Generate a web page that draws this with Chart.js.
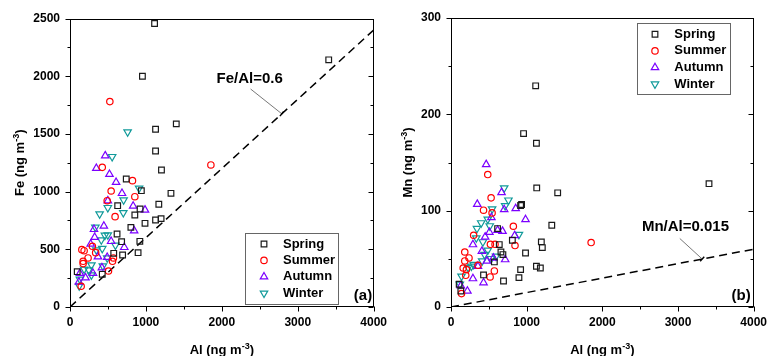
<!DOCTYPE html>
<html>
<head>
<meta charset="utf-8">
<script src="https://cdn.jsdelivr.net/npm/chart.js@4.4.1/dist/chart.umd.min.js"></script>
<style>
  html, body { margin: 0; padding: 0; background: #fff; }
  #wrap { position: relative; width: 775px; height: 356px; }
  .panel { position: absolute; top: 0; height: 356px; }
  #pa { left: 0; width: 395px; }
  #pb { left: 395px; width: 380px; }
</style>
</head>
<body>
<div id="wrap">
  <div class="panel" id="pa"><canvas id="fe"></canvas></div>
  <div class="panel" id="pb"><canvas id="mn"></canvas></div>
</div>
<script>
// axis ranges
const alRange = [0, 4000]
const feRange = [0, 2500]
const mnRange = [0, 300]
const feRatio = 0.6
const mnRatio = 0.015

// panel (a): Fe vs Al
const springAlA = [1114, 954, 3408, 1127, 1400, 1127, 1205, 741, 940, 1330, 1170, 628, 923, 854, 988, 1127, 1200, 802, 620, 680, 920, 693, 897, 576, 425, 95]
const springFe = [2457, 2000, 2142, 1540, 1587, 1352, 1187, 1109, 1008, 985, 890, 878, 849, 797, 725, 754, 766, 690, 633, 566, 569, 451, 471, 465, 283, 306]
const summerAlA = [525, 1856, 425, 823, 542, 490, 854, 594, 295, 156, 186, 338, 238, 173, 173, 572, 560, 507, 147]
const summerFe = [1780, 1231, 1210, 1095, 1005, 921, 956, 783, 526, 497, 488, 471, 425, 396, 376, 425, 396, 312, 180]
const autumnAlA = [464, 347, 520, 607, 685, 498, 832, 988, 446, 316, 845, 325, 542, 273, 715, 368, 490, 420, 303, 204, 130, 117]
const autumnFe = [1311, 1202, 1150, 1081, 985, 921, 875, 841, 702, 673, 661, 604, 569, 546, 517, 436, 431, 341, 292, 254, 292, 217]
const winterAlA = [759, 555, 910, 706, 498, 390, 702, 334, 498, 412, 460, 598, 347, 425, 433, 282, 247, 186, 130, 121, 282, 490]
const winterFe = [1517, 1303, 1029, 927, 861, 806, 817, 690, 624, 581, 621, 535, 494, 506, 355, 364, 321, 327, 240, 182, 277, 425]

// panel (b): Mn vs Al
const springAlB = [1119, 959, 1129, 3410, 1133, 1410, 933, 920, 1332, 616, 638, 811, 1194, 1207, 660, 686, 985, 573, 1129, 1181, 920, 898, 694, 430, 108, 130]
const springMn = [229.6, 180, 170, 128, 123.6, 118.5, 106.4, 105.4, 84.9, 81.4, 64.8, 69.3, 67.6, 61.7, 57.1, 54.4, 56.1, 46.8, 42.3, 40.5, 38.8, 30.5, 27, 33.3, 23.6, 16.6]
const summerAlB = [486, 530, 430, 543, 824, 299, 521, 582, 846, 182, 238, 182, 161, 204, 356, 573, 517, 195, 139, 1852]
const summerMn = [137.5, 113.3, 100.5, 97.7, 83.8, 74.5, 65.1, 65.1, 63.8, 57.1, 50.9, 47.8, 40.5, 38.8, 43.3, 37.4, 31.2, 32.9, 13.9, 66.9]
const autumnAlB = [465, 668, 347, 703, 855, 985, 534, 616, 681, 842, 508, 451, 290, 408, 560, 716, 473, 356, 290, 430, 217, 130]
const autumnMn = [148, 118.8, 106.7, 101.2, 102.2, 90.8, 92.9, 79.7, 78.7, 74.2, 77.6, 72.7, 64.8, 57.9, 50.9, 49.2, 47.8, 42.3, 29.5, 25.3, 16.6, 22]
const winterAlB = [703, 759, 716, 543, 486, 399, 343, 512, 898, 334, 421, 486, 443, 595, 412, 530, 269, 226, 139, 117, 300]
const winterMn = [123.6, 110.9, 105, 101.8, 91.1, 87.3, 81.4, 84.2, 75.2, 71.7, 67.6, 58.9, 54.4, 52.6, 47.8, 50.2, 42.3, 40.9, 31.9, 23.6, 44]

const FONT = "'Liberation Sans', Arial, Helvetica, sans-serif"
Chart.defaults.font.family = FONT
Chart.defaults.font.weight = 'bold'
Chart.defaults.font.size = 12
Chart.defaults.color = '#000'

const seasonStyle = {
  Spring: { pointStyle: 'rect', color: '#1a1a1a', radius: 4, rotation: 0 },
  Summer: { pointStyle: 'circle', color: '#ff0000', radius: 3.2, rotation: 0 },
  Autumn: { pointStyle: 'triangle', color: '#7b00ff', radius: 4.3, rotation: 0 },
  Winter: { pointStyle: 'triangle', color: '#119a9a', radius: 4.3, rotation: 180 }
}

function seasonSet (name, xs, ys) {
  const s = seasonStyle[name]
  return {
    label: name,
    data: xs.map((x, i) => ({ x: x, y: ys[i] })),
    pointStyle: s.pointStyle,
    pointRotation: s.rotation,
    pointRadius: s.radius,
    pointBorderWidth: 1.2,
    borderColor: s.color,
    pointBorderColor: s.color,
    backgroundColor: 'rgba(0,0,0,0)',
    pointBackgroundColor: 'rgba(0,0,0,0)'
  }
}

function ratioSet (ratio) {
  return {
    label: 'ratio',
    isRatio: true,
    data: [{ x: alRange[0], y: alRange[0] * ratio }, { x: alRange[1], y: alRange[1] * ratio }],
    showLine: true,
    borderColor: '#000',
    borderWidth: 1.5,
    borderDash: [8, 5],
    pointRadius: 0
  }
}

function drawSupText (ctx, parts, x, y) {
  const big = 'bold 13px ' + FONT
  const small = 'bold 9px ' + FONT
  ctx.font = big
  const w0 = ctx.measureText(parts[0]).width
  const w2 = ctx.measureText(parts[2]).width
  ctx.font = small
  const w1 = ctx.measureText(parts[1]).width
  let cx = x - (w0 + w1 + w2) / 2
  ctx.textAlign = 'left'
  ctx.textBaseline = 'alphabetic'
  ctx.font = big; ctx.fillText(parts[0], cx, y); cx += w0
  ctx.font = small; ctx.fillText(parts[1], cx, y - 5); cx += w1
  ctx.font = big; ctx.fillText(parts[2], cx, y)
}

function line (ctx, x1, y1, x2, y2) {
  ctx.beginPath(); ctx.moveTo(x1, y1); ctx.lineTo(x2, y2); ctx.stroke()
}

// frame, tick marks, titles, ratio label, legend box, panel tag
const decorPlugin = {
  id: 'decor',
  afterDraw (chart, args, opts) {
    const ctx = chart.ctx
    const a = chart.chartArea
    const xs = chart.scales.x
    const ys = chart.scales.y
    const L = Math.round(a.left) + 0.5
    const R = Math.round(a.right) - 0.5
    const T = Math.round(a.top) + 0.5
    const B = Math.round(a.bottom) - 0.5
    ctx.save()
    ctx.strokeStyle = '#000'
    ctx.lineWidth = 1
    ctx.strokeRect(L, T, R - L, B - T)
    xs.ticks.forEach(t => {
      const px = Math.round(xs.getPixelForValue(t.value)) + 0.5
      line(ctx, px, B, px, B + (t.label === '' ? 3 : 5))
    })
    ys.ticks.forEach(t => {
      const py = Math.round(ys.getPixelForValue(t.value)) + 0.5
      const len = t.label === '' ? 3 : 5
      line(ctx, L, py, L - len, py)
      line(ctx, R, py, R - len, py)
    })

    // axis titles
    ctx.fillStyle = '#000'
    drawSupText(ctx, opts.xTitle, (a.left + a.right) / 2, a.bottom + opts.xTitleOffset)
    ctx.save()
    ctx.translate(a.left - opts.yTitleOffset, (a.top + a.bottom) / 2)
    ctx.rotate(-Math.PI / 2)
    drawSupText(ctx, opts.yTitle, 0, 0)
    ctx.restore()

    // ratio label with arrow
    const n = opts.note
    const fx = xs.getPixelForValue(n.fromX); const fy = ys.getPixelForValue(n.fromY)
    const tx = xs.getPixelForValue(n.toX); const ty = ys.getPixelForValue(n.toY)
    ctx.strokeStyle = '#555'
    ctx.lineWidth = 0.8
    line(ctx, fx, fy, tx, ty)
    const len = Math.hypot(tx - fx, ty - fy)
    const ux = (tx - fx) / len; const uy = (ty - fy) / len
    ctx.strokeStyle = '#000'
    ctx.lineWidth = 1.4
    line(ctx, tx - uy * 3, ty + ux * 3, tx + uy * 3, ty - ux * 3)
    ctx.fillStyle = '#000'
    ctx.font = 'bold 15px ' + FONT
    ctx.textAlign = 'center'
    ctx.textBaseline = 'middle'
    ctx.fillText(n.text, xs.getPixelForValue(n.textX), ys.getPixelForValue(n.textY))

    // legend
    const lg = opts.legend
    ctx.strokeStyle = '#666'
    ctx.lineWidth = 1
    ctx.strokeRect(Math.round(lg.x) + 0.5, Math.round(lg.y) + 0.5, lg.w, lg.h)
    ctx.font = 'bold 13px ' + FONT
    ctx.textAlign = 'left'
    ctx.textBaseline = 'middle'
    chart.data.datasets.filter(d => !d.isRatio).forEach((d, i) => {
      const py = lg.y + lg.first + i * lg.row
      ctx.strokeStyle = d.pointBorderColor
      ctx.fillStyle = 'rgba(0,0,0,0)'
      ctx.lineWidth = d.pointBorderWidth
      Chart.helpers.drawPoint(ctx, {
        pointStyle: d.pointStyle,
        rotation: d.pointRotation,
        radius: d.pointRadius,
        borderWidth: d.pointBorderWidth
      }, lg.x + lg.markDx, py)
      ctx.fillStyle = '#000'
      ctx.fillText(d.label, lg.x + lg.textDx, py)
    })

    // panel tag
    ctx.font = 'bold 15px ' + FONT
    ctx.textAlign = 'right'
    ctx.textBaseline = 'alphabetic'
    ctx.fillText(opts.tag, a.right - opts.tagDx, a.bottom - 7)
    ctx.restore()
  }
}

function buildChart (canvasId, sets, yRange, yStep, yMajor, yWidth, padding, decor) {
  return new Chart(document.getElementById(canvasId).getContext('2d'), {
    type: 'scatter',
    data: { datasets: sets },
    options: {
      responsive: true,
      maintainAspectRatio: false,
      animation: false,
      layout: { padding: padding },
      scales: {
        x: {
          type: 'linear',
          min: alRange[0],
          max: alRange[1],
          afterFit: (s) => { s.height = 49 },
          border: { display: false },
          grid: { display: false, drawTicks: false },
          ticks: {
            stepSize: 500,
            autoSkip: false,
            maxRotation: 0,
            padding: 8,
            callback: (v) => (v % 1000 === 0 ? String(v) : '')
          }
        },
        y: {
          type: 'linear',
          min: yRange[0],
          max: yRange[1],
          afterFit: (s) => { s.width = yWidth },
          border: { display: false },
          grid: { display: false, drawTicks: false },
          ticks: {
            stepSize: yStep,
            autoSkip: false,
            padding: 10,
            callback: (v) => (v % yMajor === 0 ? String(v) : '')
          }
        }
      },
      plugins: {
        legend: { display: false },
        tooltip: { enabled: false },
        decor: decor
      }
    },
    plugins: [decorPlugin]
  })
}

buildChart('fe', [
  seasonSet('Spring', springAlA, springFe),
  seasonSet('Summer', summerAlA, summerFe),
  seasonSet('Autumn', autumnAlA, autumnFe),
  seasonSet('Winter', winterAlA, winterFe),
  ratioSet(feRatio)
], feRange, 250, 500, 70, { top: 18.5, right: 17.5, left: 0, bottom: 0 }, {
  xTitle: ['Al (ng m', '-3', ')'],
  yTitle: ['Fe (ng m', '-3', ')'],
  xTitleOffset: 47,
  yTitleOffset: 46,
  note: { text: 'Fe/Al=0.6', textX: 2366, textY: 1976, fromX: 2379, fromY: 1889, toX: 2790, toY: 1674 },
  legend: { x: 245, y: 233, w: 93, h: 71, first: 11, row: 16.4, markDx: 19, textDx: 38 },
  tag: '(a)',
  tagDx: 1.5
})

buildChart('mn', [
  seasonSet('Spring', springAlB, springMn),
  seasonSet('Summer', summerAlB, summerMn),
  seasonSet('Autumn', autumnAlB, autumnMn),
  seasonSet('Winter', winterAlB, winterMn),
  ratioSet(mnRatio)
], mnRange, 50, 100, 56, { top: 18, right: 16.7, left: 0, bottom: 0 }, {
  xTitle: ['Al (ng m', '-3', ')'],
  yTitle: ['Mn (ng m', '-3', ')'],
  xTitleOffset: 47,
  yTitleOffset: 39,
  note: { text: 'Mn/Al=0.015', textX: 3099, textY: 83.3, fromX: 3024, fromY: 71.1, toX: 3320, toY: 49.8 },
  legend: { x: 241.7, y: 23.3, w: 93, h: 71, first: 11, row: 16.6, markDx: 18.3, textDx: 37.6 },
  tag: '(b)',
  tagDx: 3
})
</script>
</body>
</html>
